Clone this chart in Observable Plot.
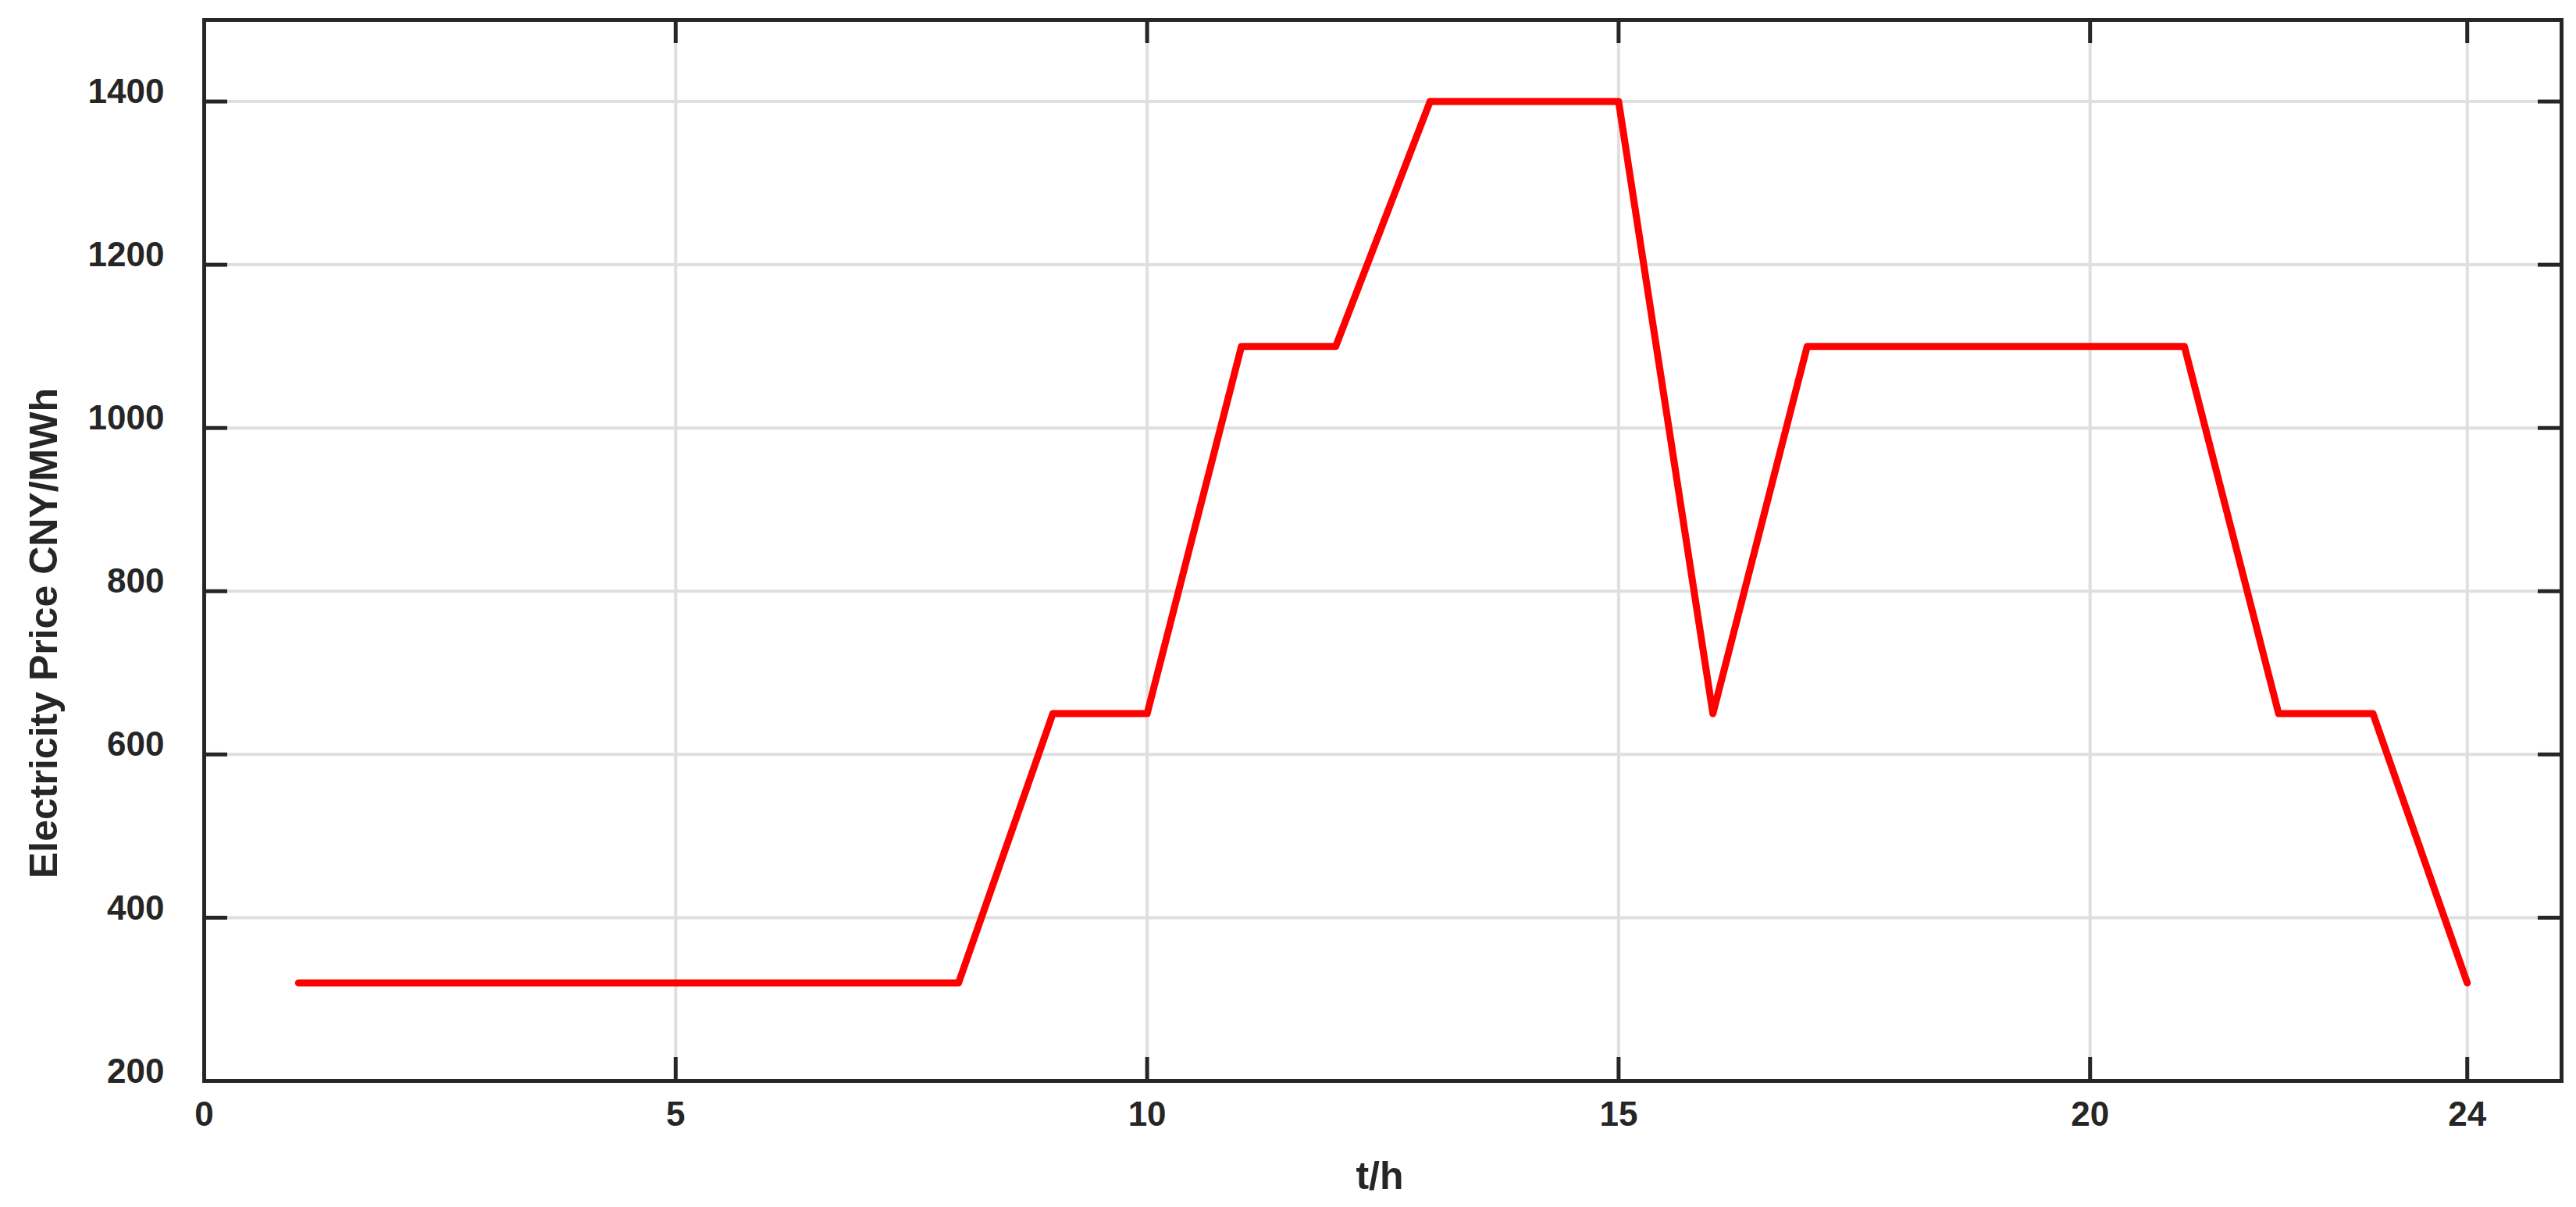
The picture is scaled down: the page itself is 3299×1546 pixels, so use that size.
<!DOCTYPE html>
<html><head><meta charset="utf-8">
<script src="https://cdn.jsdelivr.net/npm/d3@7"></script>
<script src="https://cdn.jsdelivr.net/npm/@observablehq/plot@0.6"></script>
<style>html,body{margin:0;padding:0;background:#fff} svg{display:block}</style>
</head><body><div id="chart"></div>
<script>
const hours = [1,2,3,4,5,6,7,8,9,10,11,12,13,14,15,16,17,18,19,20,21,22,23,24];
const prices = [320,320,320,320,320,320,320,320,650,650,1100,1100,1400,1400,1400,650,1100,1100,1100,1100,1100,650,650,320];
const xTicks = [0,5,10,15,20,24];
const yTicks = [200,400,600,800,1000,1200,1400];
const xLabel = "t/h";
const yLabel = "Electricity Price CNY/MWh";

const W = 3299, H = 1546, mL = 261, mR = 19, mT = 25, mB = 162;
const innerW = W - mL - mR, innerH = H - mT - mB;
const tickLen = 30;
const ink = "#262626";
const font = "'Liberation Sans', Arial, Helvetica, sans-serif";

const data = hours.map((t, i) => ({t, price: prices[i]}));

const chart = Plot.plot({
  width: W, height: H,
  marginLeft: mL, marginRight: mR, marginTop: mT, marginBottom: mB,
  style: {fontFamily: font, fontWeight: "bold", color: ink, background: "#fff"},
  x: {domain: [0, 25]},
  y: {domain: [200, 1500]},
  marks: [
    Plot.gridX(xTicks, {stroke: "#dfdfdf", strokeOpacity: 1, strokeWidth: 4}),
    Plot.gridY(yTicks, {stroke: "#dfdfdf", strokeOpacity: 1, strokeWidth: 4}),
    Plot.line(data, {x: "t", y: "price", stroke: "#ff0000", strokeWidth: 9}),
    Plot.ruleX(xTicks, {x: d => d, stroke: ink, strokeWidth: 5, insetTop: innerH - tickLen}),
    Plot.ruleX(xTicks, {x: d => d, stroke: ink, strokeWidth: 5, insetBottom: innerH - tickLen}),
    Plot.ruleY(yTicks, {y: d => d, stroke: ink, strokeWidth: 5, insetRight: innerW - tickLen}),
    Plot.ruleY(yTicks, {y: d => d, stroke: ink, strokeWidth: 5, insetLeft: innerW - tickLen}),
    Plot.frame({stroke: ink, strokeWidth: 5}),
    Plot.axisX(xTicks, {tickSize: 0, tickPadding: 26, fontSize: 44, fontWeight: "bold", label: null, fill: ink, tickFormat: d => String(d)}),
    Plot.axisY(yTicks, {tickSize: 0, tickPadding: 51, fontSize: 44, fontWeight: "bold", label: null, fill: ink, dy: -12, tickFormat: d => String(d)}),
    Plot.text([yLabel], {text: d => d, frameAnchor: "left", textAnchor: "middle", lineAnchor: "middle", rotate: -90, dx: -205, dy: 106, fontSize: 50, fontWeight: "bold", fill: ink}),
    Plot.text([xLabel], {text: d => d, frameAnchor: "bottom", textAnchor: "middle", lineAnchor: "middle", dy: 122, dx: -4, fontSize: 50, fontWeight: "bold", fill: ink})
  ]
});
document.getElementById("chart").appendChild(chart);
</script>
</body></html>
